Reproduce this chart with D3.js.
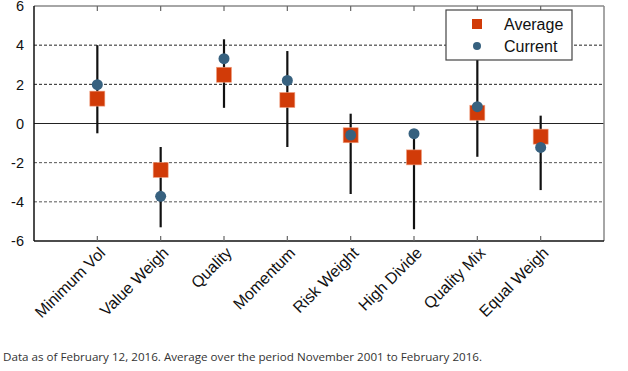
<!DOCTYPE html>
<html>
<head>
<meta charset="utf-8">
<script src="https://cdnjs.cloudflare.com/ajax/libs/d3/7.8.5/d3.min.js"></script>
<style>
  body { margin: 0; background: #fff; }
  svg { display: block; }
  .lbl { font-family: "Liberation Sans", Arimo, Arial, Helvetica, sans-serif; fill: #111; }
</style>
</head>
<body>
<div id="chart"></div>
<script>
// categories and values
var categories = ["Minimum Vol", "Value Weigh", "Quality", "Momentum", "Risk Weight", "High Divide", "Quality Mix", "Equal Weigh"];
var rangeHigh = [4.0, -1.2, 4.3, 3.7, 0.5, -0.5, 3.6, 0.4];
var rangeLow = [-0.5, -5.3, 0.8, -1.2, -3.6, -5.4, -1.7, -3.4];
var average = [1.27, -2.37, 2.49, 1.2, -0.6, -1.73, 0.55, -0.67];
var current = [1.98, -3.72, 3.31, 2.2, -0.59, -0.52, 0.86, -1.22];
var yTicks = [-6, -4, -2, 0, 2, 4, 6];
var footnote = "Data as of February 12, 2016. Average over the period November 2001 to February 2016.";

var W = 628, H = 371;
var margin = { top: 6, right: 24, bottom: 130, left: 34 };
var width = W - margin.left - margin.right,
    height = H - margin.top - margin.bottom;

var svg = d3.select("#chart").append("svg")
    .attr("width", W)
    .attr("height", H);

var g = svg.append("g")
    .attr("transform", "translate(" + margin.left + "," + margin.top + ")");

// x is index-based: one empty slot at each end
var x = d3.scaleLinear().domain([0, categories.length + 1]).range([0, width]);
var y = d3.scaleLinear().domain([-6, 6]).range([height, 0]);

var data = categories.map(function(c, i) {
    return { name: c, pos: i + 1, hi: rangeHigh[i], lo: rangeLow[i], avg: average[i], cur: current[i] };
});

// grid lines
g.selectAll(".grid")
    .data(yTicks.filter(function(t) { return t > -6 && t < 6; }))
    .enter().append("line")
    .attr("x1", 0).attr("x2", width)
    .attr("y1", function(d) { return y(d); })
    .attr("y2", function(d) { return y(d); })
    .attr("stroke", function(d) { return d === 0 ? "#222" : (d < 0 ? "#555" : "#222"); })
    .attr("stroke-width", 1)
    .attr("stroke-dasharray", function(d) { return d === 0 ? null : "3,2"; });

// y tick labels
g.selectAll(".ylab")
    .data(yTicks)
    .enter().append("text")
    .attr("class", "lbl")
    .attr("x", -10)
    .attr("y", function(d) { return y(d); })
    .attr("dy", "0.36em")
    .attr("text-anchor", "end")
    .style("font-size", "14.5px")
    .text(function(d) { return d; });

// frame
g.append("line").attr("x1", 0).attr("x2", width).attr("y1", 0).attr("y2", 0)
    .attr("stroke", "#888").attr("stroke-width", 1.5);
g.append("line").attr("x1", width).attr("x2", width).attr("y1", 0).attr("y2", height)
    .attr("stroke", "#888").attr("stroke-width", 1.5);
g.append("line").attr("x1", 0).attr("x2", 0).attr("y1", 0).attr("y2", height)
    .attr("stroke", "#111").attr("stroke-width", 1.5);
g.append("line").attr("x1", 0).attr("x2", width).attr("y1", height).attr("y2", height)
    .attr("stroke", "#111").attr("stroke-width", 1.5);

// inner tick marks, top and bottom
g.selectAll(".tickTop")
    .data(data).enter().append("line")
    .attr("x1", function(d) { return x(d.pos); })
    .attr("x2", function(d) { return x(d.pos); })
    .attr("y1", 0).attr("y2", 5)
    .attr("stroke", "#666").attr("stroke-width", 1.2);
g.selectAll(".tickBot")
    .data(data).enter().append("line")
    .attr("x1", function(d) { return x(d.pos); })
    .attr("x2", function(d) { return x(d.pos); })
    .attr("y1", height).attr("y2", height - 5)
    .attr("stroke", "#666").attr("stroke-width", 1.2);

// x labels, rotated
g.selectAll(".xlab")
    .data(data).enter().append("text")
    .attr("class", "lbl")
    .attr("transform", function(d) { return "translate(" + (x(d.pos) + 5) + "," + (height + 9) + ") rotate(-45)"; })
    .attr("text-anchor", "end")
    .attr("dy", "0.35em")
    .style("font-size", "16px")
    .text(function(d) { return d.name; });

// range whiskers
g.selectAll(".whisker")
    .data(data).enter().append("line")
    .attr("x1", function(d) { return x(d.pos); })
    .attr("x2", function(d) { return x(d.pos); })
    .attr("y1", function(d) { return y(d.hi); })
    .attr("y2", function(d) { return y(d.lo); })
    .attr("stroke", "#111").attr("stroke-width", 2.2);

var sq = 15, r = 5.5;
var red = "#D13B08", blue = "#37617F";

g.selectAll(".avg")
    .data(data).enter().append("rect")
    .attr("x", function(d) { return x(d.pos) - sq / 2; })
    .attr("y", function(d) { return y(d.avg) - sq / 2; })
    .attr("width", sq).attr("height", sq)
    .attr("fill", red)
    .attr("stroke", "#f0a080").attr("stroke-width", 0.6);

g.selectAll(".cur")
    .data(data).enter().append("circle")
    .attr("cx", function(d) { return x(d.pos); })
    .attr("cy", function(d) { return y(d.cur); })
    .attr("r", r)
    .attr("fill", blue);

// legend
var lg = svg.append("g").attr("transform", "translate(446,10)");
lg.append("rect")
    .attr("width", 126).attr("height", 50)
    .attr("fill", "#fff")
    .attr("stroke", "#444").attr("stroke-width", 1.2);
lg.append("rect")
    .attr("x", 26).attr("y", 9).attr("width", 10).attr("height", 10)
    .attr("fill", red);
lg.append("circle")
    .attr("cx", 31).attr("cy", 36).attr("r", 4)
    .attr("fill", blue);
lg.selectAll(".ltxt")
    .data(["Average", "Current"]).enter().append("text")
    .attr("class", "lbl")
    .attr("x", 58)
    .attr("y", function(d, i) { return 14 + i * 22; })
    .attr("dy", "0.36em")
    .style("font-size", "16px")
    .text(function(d) { return d; });

// footnote
svg.append("text")
    .attr("x", 3).attr("y", 361)
    .attr("textLength", 479)
    .attr("lengthAdjust", "spacingAndGlyphs")
    .style("font-family", "'Open Sans', sans-serif")
    .style("font-size", "11px")
    .style("fill", "#333")
    .text(footnote);
</script>
</body>
</html>
